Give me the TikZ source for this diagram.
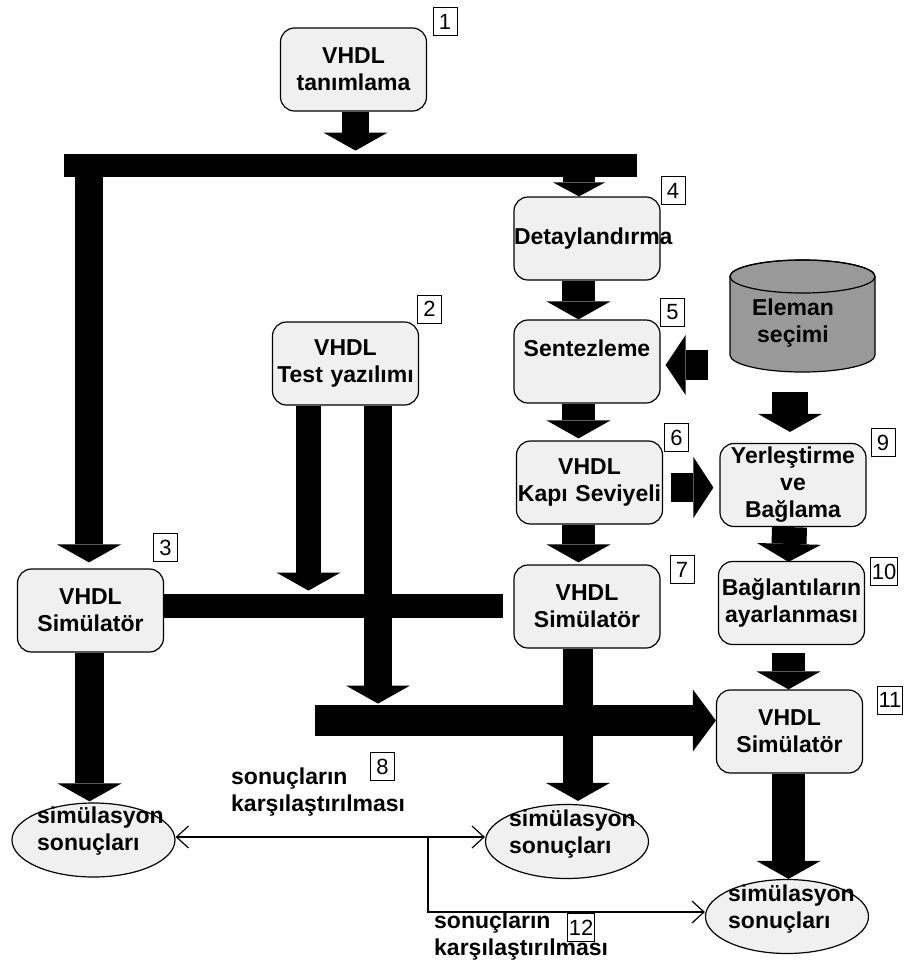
\documentclass[tikz,border=0pt]{standalone}
\usepackage{fontspec}
\setmainfont{Liberation Sans}
\usetikzlibrary{arrows.meta,calc,shapes.geometric}
\definecolor{boxfill}{HTML}{F0F0F0}
\definecolor{cylfill}{HTML}{999999}
\begin{document}
\begin{tikzpicture}[x=1pt,y=-1pt,
  every node/.style={font=\fontsize{23}{27}\selectfont\bfseries},
  stage/.style={draw, line width=1.2pt, fill=boxfill, rounded corners=14pt,
    text width=146pt, minimum height=83pt, inner sep=0pt, align=center},
  result/.style={draw, ellipse, line width=1.2pt, fill=boxfill,
    minimum width=163pt, minimum height=74pt, inner sep=0pt},
  plain/.style={inner sep=0pt, align=left},
  tag/.style={draw, line width=1pt, fill=white, inner sep=1pt,
    minimum width=24pt, minimum height=28pt,
    font=\fontsize{22}{22}\selectfont\mdseries},
  thickarrow/.style={line width=#1, -{Triangle[length=18pt,width=64pt,line width=0pt]}},
  thickarrow/.default=30pt,
  busbar/.style={line width=#1},
  thinarrow/.style={line width=1.2pt, -{Straight Barb[length=12pt,width=22pt]}},
]
\useasboundingbox (0,0) rectangle (910,962);

% ---- process boxes ----
\node[stage] (def)   at (353.5,69.5)  {VHDL\\tanımlama};
\node[stage] (elab)  at (587,238.5)   {Detaylandırma};
\node[stage] (tb)    at (345.5,363.5) {VHDL\\Test yazılımı};
\node[stage] (syn)   at (587,361.5)   {Sentezleme\\ \mbox{}};
\node[stage] (gate)  at (589.5,482.5) {VHDL\\Kapı Seviyeli};
\node[stage] (place) at (793,485)     {Yerleştirme\\ve\\Bağlama};
\node[stage] (sim1)  at (90.5,610.5)  {VHDL\\Simülatör};
\node[stage] (sim2)  at (587,606.5)   {VHDL\\Simülatör};
\node[stage] (route) at (791.5,603)   {Bağlantıların\\ayarlanması};
\node[stage] (sim3)  at (789.5,731.5) {VHDL\\Simülatör};

% ---- component library (cylinder) ----
\path[draw, fill=cylfill, line width=1.2pt]
  (730,276.5) -- (730,355)
  arc[start angle=180, end angle=360, x radius=72.5pt, y radius=17pt]
  -- (875,276.5)
  arc[start angle=0, end angle=180, x radius=72.5pt, y radius=16.5pt] -- cycle;
\draw[line width=1.2pt] (802.5,276.5) ellipse [x radius=72.5pt, y radius=16.5pt];
\node[align=center, inner sep=0pt] (lib) at (793,323.5) {Eleman\\seçimi};

% ---- simulation results ----
\node[result] (r1) at (93.5,840)  {};
\node[result] (r2) at (567,841.5) {};
\node[result] (r3) at (787,916.5) {};
\node[plain, anchor=west] (r1t) at (37,831.5)  {simülasyon\\sonuçları};
\node[plain, anchor=west] (r2t) at (509,834.5) {simülasyon\\sonuçları};
\node[plain, anchor=west] (r3t) at (728,909)   {simülasyon\\sonuçları};

% ---- comparison labels ----
\node[plain, anchor=west] (cmp1) at (231,792)   {sonuçların\\karşılaştırılması};
\node[plain, anchor=west] (cmp2) at (434,936.5) {sonuçların\\karşılaştırılması};

% ---- distribution bus from the description ----
\coordinate (busL) at (64,165.5);
\coordinate (busR) at (637,165.5);
\coordinate (busA) at (89,154);
\coordinate (busB) at (579,177);
\draw[thickarrow=27pt] ([xshift=2pt]def.south) -- ++(0,39);
\draw[busbar=23pt] (busL) -- (busR);
\draw[thickarrow=28pt] (busA) -- ([xshift=-1.5pt,yshift=6pt]sim1.north);
\draw[thickarrow=32pt, -{Triangle[length=14pt,width=52pt,line width=0pt]}]
  (busB) -- ([xshift=-8pt]elab.north);

% ---- synthesis chain ----
\draw[thickarrow=33pt] ([xshift=-8.5pt]elab.south) -- ([xshift=-8.5pt]syn.north);
\draw[thickarrow=33pt] ([xshift=-8.5pt]syn.south) -- ([xshift=-11pt,yshift=2pt]gate.north);
\draw[thickarrow=33pt] ([xshift=-11pt]gate.south) -- ([xshift=-8.5pt,yshift=2pt]sim2.north);
\draw[thickarrow=30pt] ([xshift=-9pt]sim2.south) -- ([xshift=11pt,yshift=3pt]r2.north);

% ---- library to synthesis and placement ----
\coordinate (libW) at (708,365);
\coordinate (libS) at (790,392);
\draw[thickarrow=30pt, -{Triangle[length=20pt,width=60pt,line width=0pt]}]
  (libW) -- ([xshift=5pt,yshift=-3.5pt]syn.east);
\draw[thickarrow=36pt] (libS) -- ([xshift=-3pt,yshift=11pt]place.north);
\draw[thickarrow=29pt, -{Triangle[length=20pt,width=61pt,line width=0pt]}]
  ([xshift=8pt,yshift=-5pt]gate.east) -- ([xshift=-6pt,yshift=-2.5pt]place.west);

% ---- place and route chain ----
\draw[thickarrow=35pt] ([xshift=-3.5pt]place.south) -- ([xshift=-3pt,yshift=-1pt]route.north);
\draw[thickarrow=33pt] ([xshift=-3pt,yshift=-8pt]route.south) -- ([xshift=-1pt]sim3.north);
\draw[thickarrow=33pt] ([xshift=-1pt]sim3.south) -- ([xshift=1.5pt]r3.north);

% ---- behavioural simulation ----
\draw[thickarrow=29pt] ([xshift=-1pt]sim1.south) -- ([xshift=-4pt,yshift=1pt]r1.north);

% ---- test bench feeds ----
\coordinate (tbL) at ($(tb.south)+(-37,0)$);
\coordinate (tbR) at ($(tb.south)+(32.5,0)$);
\draw[thickarrow=25pt] (tbL) -- ++(0,185);
\draw[thickarrow=28pt] (tbR) -- ++(0,298);
\draw[busbar=24pt] (sim1.east |- 0,606) -- ([xshift=-10pt,yshift=0.5pt]sim2.west);
\coordinate (hbus) at (315,720.5);
\draw[thickarrow=31pt, -{Triangle[length=23pt,width=62pt,line width=0pt]}]
  (hbus) -- ([yshift=11pt]sim3.west);

% ---- result comparison ----
\coordinate (fork) at (428,837);
\draw[thinarrow, {Straight Barb[length=12pt,width=22pt]}-{Straight Barb[length=12pt,width=22pt]}]
  ([yshift=3pt]r1.east) -- ([yshift=4.5pt]r2.west);
\draw[thinarrow] (fork) |- ([yshift=4.5pt]r3.west);

% ---- step numbers ----
\node[tag] (n1)  at (445,21.5)    {1};
\node[tag] (n2)  at (429.5,309)   {2};
\node[tag] (n3)  at (165.5,547.5) {3};
\node[tag] (n4)  at (673,190.5)   {4};
\node[tag] (n5)  at (672.5,312)   {5};
\node[tag] (n6)  at (676.5,437.5) {6};
\node[tag] (n7)  at (682,569.5)   {7};
\node[tag] (n8)  at (382.5,766.5) {8};
\node[tag] (n9)  at (883,442.5)   {9};
\node[tag] (n10) at (884,571.5)   {10};
\node[tag] (n11) at (890,700)     {11};
\node[tag] (n12) at (581,927.5)   {12};
\end{tikzpicture}
\end{document}
